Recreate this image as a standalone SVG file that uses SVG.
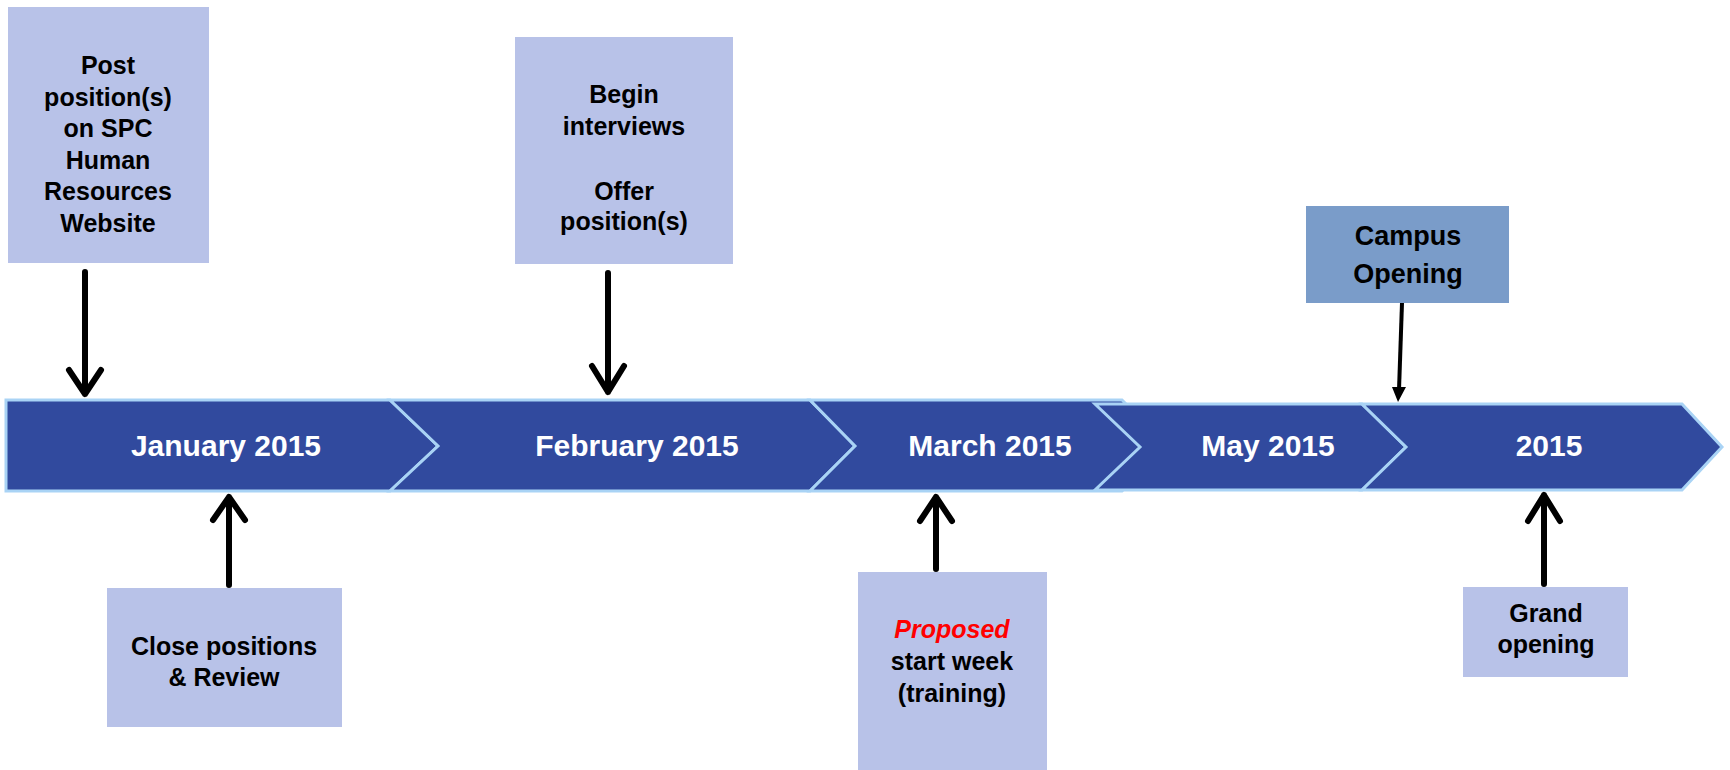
<svg xmlns="http://www.w3.org/2000/svg" width="1730" height="770" viewBox="0 0 1730 770">
<style>
.bar{fill:#314A9E;stroke:#A9D3F5;stroke-width:3;stroke-linejoin:miter}
.bt{font-family:"Liberation Sans",Arial,sans-serif;font-weight:bold;font-size:30px;fill:#FFFFFF;text-anchor:middle}
.box{fill:#B8C2E8}
.box2{fill:#7A9CC9}
.t{font-family:"Liberation Sans",Arial,sans-serif;font-weight:bold;font-size:25px;fill:#000000;text-anchor:middle}
.t2{font-family:"Liberation Sans",Arial,sans-serif;font-weight:bold;font-size:27px;fill:#000000;text-anchor:middle}
.arr{fill:none;stroke:#000000;stroke-width:6;stroke-linecap:round;stroke-linejoin:round}
</style>
<rect width="1730" height="770" fill="#FFFFFF"/>
<g id="timeline">
<g id="jan"><polygon class="bar" points="6,400 390,400 438,446 390,491 6,491"/><text class="bt" x="226" y="456">January 2015</text></g>
<g id="feb"><polygon class="bar" points="390,400 810,400 855,446 810,491 390,491 438,446"/><text class="bt" x="637" y="456">February 2015</text></g>
<g id="mar"><polygon class="bar" points="810,400 1122,400 1168,446 1122,491 810,491 855,446"/><text class="bt" x="990" y="456">March 2015</text></g>
<g id="may"><polygon class="bar" points="1095,404 1362,404 1406,447 1362,490 1095,490 1140,447"/><text class="bt" x="1268" y="456">May 2015</text></g>
<g id="y2015"><polygon class="bar" points="1362,404 1682,404 1722,447 1682,490 1362,490 1406,447"/><text class="bt" x="1549" y="456">2015</text></g>
</g>
<g id="post"><rect class="box" x="8" y="7" width="201" height="256"/>
<text class="t" x="108"><tspan x="108" y="74">Post</tspan><tspan x="108" y="106">position(s)</tspan><tspan x="108" y="137">on SPC</tspan><tspan x="108" y="169">Human</tspan><tspan x="108" y="200">Resources</tspan><tspan x="108" y="232">Website</tspan></text></g>
<g id="begin"><rect class="box" x="515" y="37" width="218" height="227"/>
<text class="t"><tspan x="624" y="103">Begin</tspan><tspan x="624" y="135">interviews</tspan><tspan x="624" y="200">Offer</tspan><tspan x="624" y="230">position(s)</tspan></text></g>
<g id="campus"><rect class="box2" x="1306" y="206" width="203" height="97"/>
<text class="t2"><tspan x="1408" y="245">Campus</tspan><tspan x="1408" y="283">Opening</tspan></text></g>
<g id="close"><rect class="box" x="107" y="588" width="235" height="139"/>
<text class="t"><tspan x="224" y="655">Close positions</tspan><tspan x="224" y="686">&amp; Review</tspan></text></g>
<g id="proposed"><rect class="box" x="858" y="572" width="189" height="198"/>
<text class="t"><tspan x="952" y="638" fill="#FF0000" font-style="italic">Proposed</tspan><tspan x="952" y="670">start week</tspan><tspan x="952" y="702">(training)</tspan></text></g>
<g id="grand"><rect class="box" x="1463" y="587" width="165" height="90"/>
<text class="t"><tspan x="1546" y="622">Grand</tspan><tspan x="1546" y="653">opening</tspan></text></g>
<g id="connectors">
<path class="arr" d="M85,272 V394 M69,370 L85,394 L101,370"/>
<path class="arr" d="M608,273 V392 M592,366 L608,392 L624,366"/>
<path d="M1402,303 L1399,390" fill="none" stroke="#000000" stroke-width="4"/>
<polygon points="1392,387 1406,387 1398,402" fill="#000000"/>
<path class="arr" d="M229,585 V497 M213,520 L229,497 L245,520"/>
<path class="arr" d="M936,569 V497 M920,521 L936,497 L952,521"/>
<path class="arr" d="M1544,584 V495 M1528,521 L1544,495 L1560,521"/>
</g>
</svg>
